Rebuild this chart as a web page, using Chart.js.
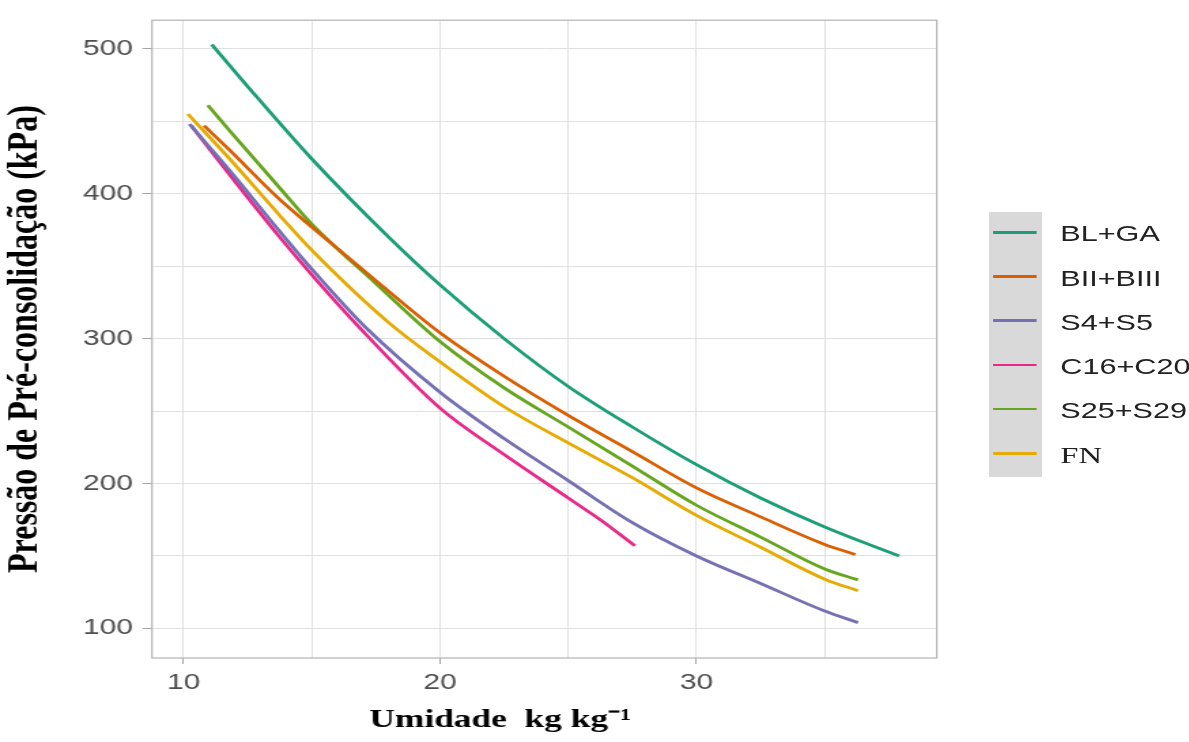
<!DOCTYPE html>
<html><head><meta charset="utf-8">
<script src="https://cdn.jsdelivr.net/npm/chart.js@4.4.1/dist/chart.umd.min.js"></script>
<style>
html,body{margin:0;padding:0;background:#fff;overflow:hidden;width:1189px;height:742px;}
#wrap{position:absolute;left:0;top:0;width:874px;height:742px;transform:scaleX(1.3604);transform-origin:0 0;}
#c{position:absolute;left:0;top:0;}
#legendBox{position:absolute;left:726.5px;top:212px;width:39.7px;height:265px;background:#d9d9d9;}
.lgLine{position:absolute;left:730px;width:32px;height:2.8px;}
.lgText{position:absolute;left:779.4px;height:26px;line-height:26px;font-family:"Liberation Sans",Arial,sans-serif;font-size:22.5px;color:#222;white-space:nowrap;}
</style></head>
<body>
<div id="wrap">
  <canvas id="c" width="874" height="742"></canvas>
  <div id="legendBox"></div>
</div>
<script>
// ---- data ----
const seriesNames = ['BL+GA', 'BII+BIII', 'S4+S5', 'C16+C20', 'S25+S29', 'FN'];
const seriesColors = ['#1B9E77', '#D95F02', '#7570B3', '#E7298A', '#66A61E', '#E6AB02'];

const blgaX = [11.1, 12.5, 15, 18, 20, 22.5, 25, 27.5, 30, 32.5, 35, 37.9];
const blgaY = [503, 474, 424, 370, 337, 300, 267, 239, 213, 190, 170, 150];

const biiX = [10.8, 11.8, 13.75, 15, 17.5, 20, 22.5, 25, 27.5, 30, 32.5, 35, 36.2];
const biiY = [447, 430, 396, 377, 340, 304, 274, 247, 222, 197, 177, 158, 151];

const s4X = [10.23, 11.8, 13.75, 15, 17.14, 20, 22.5, 25, 27.5, 30, 32.5, 35, 36.3];
const s4Y = [448, 416, 374, 348, 307, 263, 231, 202, 173, 150, 131, 112, 104];

const c16X = [10.3, 11.8, 13.75, 15, 16.68, 20, 22.5, 25, 26.25, 27.6];
const c16Y = [447, 413, 370, 344, 311, 252, 220, 190, 175, 157];

const s25X = [10.95, 11.8, 13.75, 15, 17.5, 20, 22.5, 25, 27.5, 30, 32.5, 35, 36.3];
const s25Y = [461, 443.5, 404, 379, 338, 298, 266, 239, 212, 185, 163, 141, 133.5];

const fnX = [10.17, 11.8, 13.75, 15, 18, 20, 22.5, 25, 27.5, 30, 32.5, 35, 36.3];
const fnY = [455, 424, 385, 361, 311, 284, 253, 228, 204, 178, 156, 134, 126];

const xTickLabels = [10, 20, 30];
const yTickLabels = [100, 200, 300, 400, 500];
const xTitle = 'Umidade  kg kg\u207B\u00B9          ';
const yTitle = 'Pressão de Pré-consolidação (kPa)';

// ---- build chart ----
const allX = [blgaX, biiX, s4X, c16X, s25X, fnX];
const allY = [blgaY, biiY, s4Y, c16Y, s25Y, fnY];
const datasets = seriesNames.map((name, k) => ({
  label: name,
  data: allX[k].map((x, i) => ({x: x, y: allY[k][i]})),
  borderColor: seriesColors[k],
  backgroundColor: seriesColors[k],
  borderWidth: 2.8,
  pointRadius: 0,
  fill: false,
  cubicInterpolationMode: 'monotone'
}));

const near = (v, s) => Math.abs(v / s - Math.round(v / s)) < 1e-6;

const panelBorder = {
  id: 'panelBorder',
  afterDatasetsDraw(chart) {
    const {ctx, chartArea: {left, top, right, bottom}} = chart;
    ctx.save();
    ctx.strokeStyle = '#b3b3b3';
    ctx.lineWidth = 1.2;
    ctx.strokeRect(left, top, right - left, bottom - top);
    ctx.restore();
  }
};

const tickFont = {family: '"Liberation Sans", Arial, sans-serif', size: 22};

new Chart(document.getElementById('c'), {
  type: 'line',
  data: {datasets},
  plugins: [panelBorder],
  options: {
    responsive: false,
    animation: false,
    events: [],
    layout: {padding: {top: 17, right: 185.4, left: 0, bottom: 0}},
    plugins: {legend: {display: false}, tooltip: {enabled: false}},
    scales: {
      x: {
        type: 'linear',
        min: 8.77, max: 39.37,
        afterBuildTicks: (axis) => { axis.ticks = axis.ticks.filter(t => near(t.value, 5)); },
        afterFit: (scale) => { scale.height = 84; },
        ticks: {
          stepSize: 5, includeBounds: false, autoSkip: false, maxRotation: 0, padding: 6,
          color: '#4d4d4d', font: tickFont,
          callback: (v) => xTickLabels.includes(Math.round(v)) && near(v, 10) ? String(Math.round(v)) : ''
        },
        grid: {
          color: '#e0e0e0', lineWidth: 1, drawTicks: true, tickLength: 6,
          tickColor: (ctx) => (ctx.tick && near(ctx.tick.value, 10)) ? '#a6a6a6' : 'rgba(0,0,0,0)'
        },
        border: {display: false},
        title: {
          display: true, text: xTitle, color: '#000',
          font: {family: '"Liberation Serif", "Times New Roman", serif', size: 26, weight: 'bold'},
          padding: {top: 0, bottom: 6}
        }
      },
      y: {
        type: 'linear',
        min: 79.6, max: 519.7,
        afterBuildTicks: (axis) => { axis.ticks = axis.ticks.filter(t => near(t.value, 50)); },
        afterFit: (scale) => { scale.width = 111.7; },
        ticks: {
          stepSize: 50, includeBounds: false, autoSkip: false, padding: 7,
          color: '#4d4d4d', font: tickFont,
          callback: (v) => yTickLabels.includes(Math.round(v)) && near(v, 100) ? String(Math.round(v)) : ''
        },
        grid: {
          color: '#e0e0e0', lineWidth: 1, drawTicks: true, tickLength: 7,
          tickColor: (ctx) => (ctx.tick && near(ctx.tick.value, 100)) ? '#a6a6a6' : 'rgba(0,0,0,0)'
        },
        border: {display: false},
        title: {
          display: true, text: yTitle, color: '#000',
          font: {family: '"Liberation Serif", "Times New Roman", serif', size: 32, weight: 'bold'},
          padding: {top: 0, bottom: 0}
        }
      }
    }
  }
});

// ---- HTML legend (inside the same stretched wrapper) ----
const wrap = document.getElementById('wrap');
seriesNames.forEach((name, i) => {
  const cy = 232.3 + i * 44.2;
  const ln = document.createElement('div');
  ln.className = 'lgLine';
  ln.style.top = (cy - 1.4) + 'px';
  ln.style.background = seriesColors[i];
  wrap.appendChild(ln);
  const tx = document.createElement('div');
  tx.className = 'lgText';
  tx.style.top = (cy + 2 - 13) + 'px';
  tx.textContent = name;
  if (name === 'FN') { tx.style.fontFamily = '"Liberation Serif", "Times New Roman", serif'; tx.style.fontSize = '24px'; }
  wrap.appendChild(tx);
});
</script>
</body></html>
